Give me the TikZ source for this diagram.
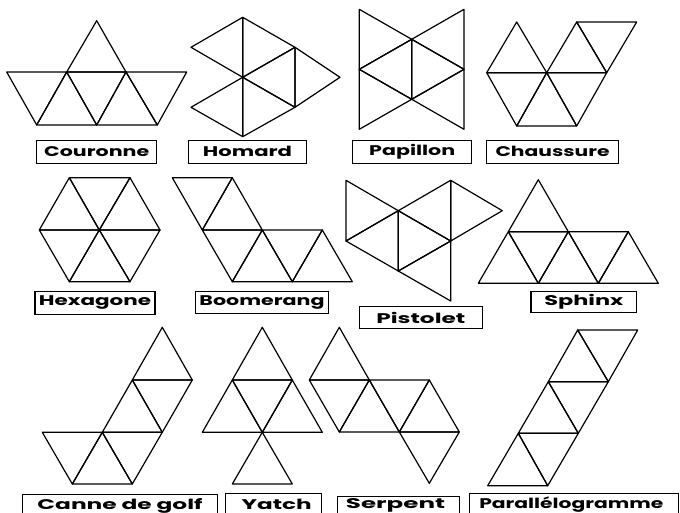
\documentclass[tikz,border=0pt]{standalone}
\usepackage{fontspec}
\usepackage{graphicx}
\newfontfamily\lblfont{Poppins}[BoldFont={* Bold}]
\newcommand\trig[3]{\draw[tri] #1 -- #2 -- #3 -- cycle;}
\tikzset{
  tri/.style={draw=black, line width=1.2pt, line join=round},
  lbltxt/.style={inner sep=0pt, font=\lblfont\bfseries\fontsize{14}{14}\selectfont},
  lbl/.style={lbltxt, draw=black, line width=1.1pt, minimum height=23pt, anchor=center},
  lblbox/.style={draw=black, line width=1.1pt, inner sep=0pt, minimum height=23pt, anchor=north}
}
\begin{document}
\begin{tikzpicture}[x=1pt,y=-1pt]
\useasboundingbox (0,0) rectangle (680,513);
\clip (0,0) rectangle (680,513);
\fill[white] (0,0) rectangle (680,513);
% Couronne
\trig{(96.7,20.7)}{(66.7,72)}{(126,72)}
\trig{(6.7,72)}{(66.7,72)}{(36.7,125)}
\trig{(66.7,72)}{(36.7,125)}{(96.7,125)}
\trig{(66.7,72)}{(126,72)}{(96.7,125)}
\trig{(126,72)}{(96.7,125)}{(157.3,125)}
\trig{(126,72)}{(186.7,72)}{(157.3,125)}
% Homard
\trig{(242.7,17.3)}{(191,47.3)}{(242.7,77.3)}
\trig{(242.7,17.3)}{(295,47.3)}{(242.7,77.3)}
\trig{(295,47.3)}{(242.7,77.3)}{(295,107.3)}
\trig{(295,47.3)}{(340,77.3)}{(295,107.3)}
\trig{(242.7,77.3)}{(191,107.3)}{(242.7,136.7)}
\trig{(242.7,77.3)}{(295,107.3)}{(242.7,136.7)}
% Papillon
\trig{(359.3,9.3)}{(411.7,39.3)}{(359.3,69.3)}
\trig{(359.3,69.3)}{(411.7,99.3)}{(359.3,129.3)}
\trig{(359.3,69.3)}{(411.7,39.3)}{(411.7,99.3)}
\trig{(464,9.3)}{(411.7,39.3)}{(464,69.3)}
\trig{(464,69.3)}{(411.7,99.3)}{(464,129.3)}
\trig{(464,69.3)}{(411.7,39.3)}{(411.7,99.3)}
% Chaussure
\trig{(516.7,22)}{(486.7,72.7)}{(546.7,72.7)}
\trig{(576.7,22)}{(546.7,72.7)}{(606.7,72.7)}
\trig{(576.7,22)}{(636.7,22)}{(606.7,72.7)}
\trig{(486.7,72.7)}{(546.7,72.7)}{(516.7,126)}
\trig{(546.7,72.7)}{(516.7,126)}{(576.7,126)}
\trig{(546.7,72.7)}{(606.7,72.7)}{(576.7,126)}
% Hexagone
\trig{(99.3,230)}{(69.3,177.7)}{(130,177.7)}
\trig{(99.3,230)}{(130,177.7)}{(160,230)}
\trig{(99.3,230)}{(160,230)}{(130,281.7)}
\trig{(99.3,230)}{(130,281.7)}{(69.3,281.7)}
\trig{(99.3,230)}{(69.3,281.7)}{(39.3,230)}
\trig{(99.3,230)}{(39.3,230)}{(69.3,177.7)}
% Boomerang
\trig{(172.3,177.7)}{(232.3,177.7)}{(202.3,230)}
\trig{(232.3,177.7)}{(202.3,230)}{(262.3,230)}
\trig{(202.3,230)}{(262.3,230)}{(232.3,281.7)}
\trig{(262.3,230)}{(232.3,281.7)}{(292.3,281.7)}
\trig{(262.3,230)}{(322.3,230)}{(292.3,281.7)}
\trig{(322.3,230)}{(292.3,281.7)}{(352.3,281.7)}
% Pistolet
\trig{(346,180.3)}{(398.3,210.7)}{(346,241)}
\trig{(346,241)}{(398.3,210.7)}{(398.3,271)}
\trig{(398.3,210.7)}{(450.7,241)}{(398.3,271)}
\trig{(398.3,210.7)}{(450.7,180.3)}{(450.7,241)}
\trig{(450.7,180.3)}{(502.3,210.7)}{(450.7,241)}
\trig{(398.3,271)}{(450.7,241)}{(450.7,301)}
% Sphinx
\trig{(538.3,179.7)}{(508.3,231.7)}{(568.3,231.7)}
\trig{(508.3,231.7)}{(478.3,283.3)}{(538.3,283.3)}
\trig{(508.3,231.7)}{(568.3,231.7)}{(538.3,283.3)}
\trig{(568.3,231.7)}{(538.3,283.3)}{(598.3,283.3)}
\trig{(568.3,231.7)}{(628.3,231.7)}{(598.3,283.3)}
\trig{(628.3,231.7)}{(598.3,283.3)}{(658.3,283.3)}
% Canne de golf
\trig{(162.3,327.3)}{(132.3,380)}{(192.3,380)}
\trig{(132.3,380)}{(192.3,380)}{(162.3,432.3)}
\trig{(132.3,380)}{(102.3,432.3)}{(162.3,432.3)}
\trig{(102.3,432.3)}{(162.3,432.3)}{(132.3,484)}
\trig{(42.3,432.3)}{(102.3,432.3)}{(72.3,484)}
\trig{(102.3,432.3)}{(72.3,484)}{(132.3,484)}
% Yatch
\trig{(262.3,327.3)}{(232.3,380)}{(292.3,380)}
\trig{(232.3,380)}{(292.3,380)}{(262.3,432.3)}
\trig{(232.3,380)}{(202.3,432.3)}{(262.3,432.3)}
\trig{(292.3,380)}{(262.3,432.3)}{(322.3,432.3)}
\trig{(262.3,432.3)}{(232.3,484)}{(292.3,484)}
% Serpent
\trig{(339.3,327.3)}{(309.3,380)}{(369.3,380)}
\trig{(309.3,380)}{(369.3,380)}{(339.3,432)}
\trig{(369.3,380)}{(339.3,432)}{(399.3,432)}
\trig{(369.3,380)}{(429.3,380)}{(399.3,432)}
\trig{(429.3,380)}{(399.3,432)}{(459.3,432)}
\trig{(399.3,432)}{(459.3,432)}{(429.3,483.3)}
% Parallelogramme
\trig{(577.7,330)}{(637.7,330)}{(608.3,381.7)}
\trig{(577.7,330)}{(548.3,381.7)}{(608.3,381.7)}
\trig{(548.3,381.7)}{(608.3,381.7)}{(578.3,433.3)}
\trig{(548.3,381.7)}{(518.3,433.3)}{(578.3,433.3)}
\trig{(518.3,433.3)}{(578.3,433.3)}{(547.7,485.7)}
\trig{(518.3,433.3)}{(487.7,485.7)}{(547.7,485.7)}
% labels
\node[lbl, minimum width=120pt] (couronne) at (96.7,151.7) {\resizebox{105pt}{\height}{Couronne}};
\node[lbl, minimum width=118.4pt] (homard) at (247.5,151.7) {\resizebox{89pt}{\height}{Homard}};
\node[lbl, minimum width=119pt] (papillon) at (412.2,151.7) {\resizebox{86pt}{\height}{Papillon}};
\node[lbl, minimum width=131.6pt] (chaussure) at (552.5,151.7) {\resizebox{114pt}{\height}{Chaussure}};
\node[lbl, minimum width=120pt] (hexagone) at (95,302.7) {\resizebox{112pt}{\height}{Hexagone}};
\node[lbl, minimum width=132.6pt, minimum height=21.6pt] (boomerang) at (262,302.5) {\resizebox{125pt}{\height}{Boomerang}};
\node[lbl, minimum width=123pt, minimum height=21.6pt] (pistolet) at (420.8,317.5) {\resizebox{89pt}{\height}{Pistolet}};
\node[lbl, minimum width=105.7pt, minimum height=20.6pt] (sphinx) at (583.8,302) {\resizebox{79pt}{\height}{Sphinx}};
% bottom row: boxes run past the lower edge
\node[lblbox, minimum width=194.6pt] (canne) at (120,494) {};
\node[lbltxt, anchor=base] (cannet) at (120,509) {\resizebox{165pt}{\height}{Canne de golf}};
\node[lblbox, minimum width=96pt] (yatch) at (273.7,493.3) {};
\node[lbltxt, anchor=base] (yatcht) at (276.7,509) {\resizebox{70pt}{\height}{Yatch}};
\node[lblbox, minimum width=122pt] (serpent) at (398.3,496) {};
\node[lbltxt, anchor=base] (serpentt) at (395.5,508.5) {\resizebox{99pt}{\height}{Serpent}};
\node[lblbox, minimum width=208.7pt] (parallelo) at (573.7,492.7) {};
\node[lbltxt, anchor=base] (parallelot) at (571.3,508) {\resizebox{184pt}{\height}{Parallélogramme}};
\end{tikzpicture}
\end{document}
